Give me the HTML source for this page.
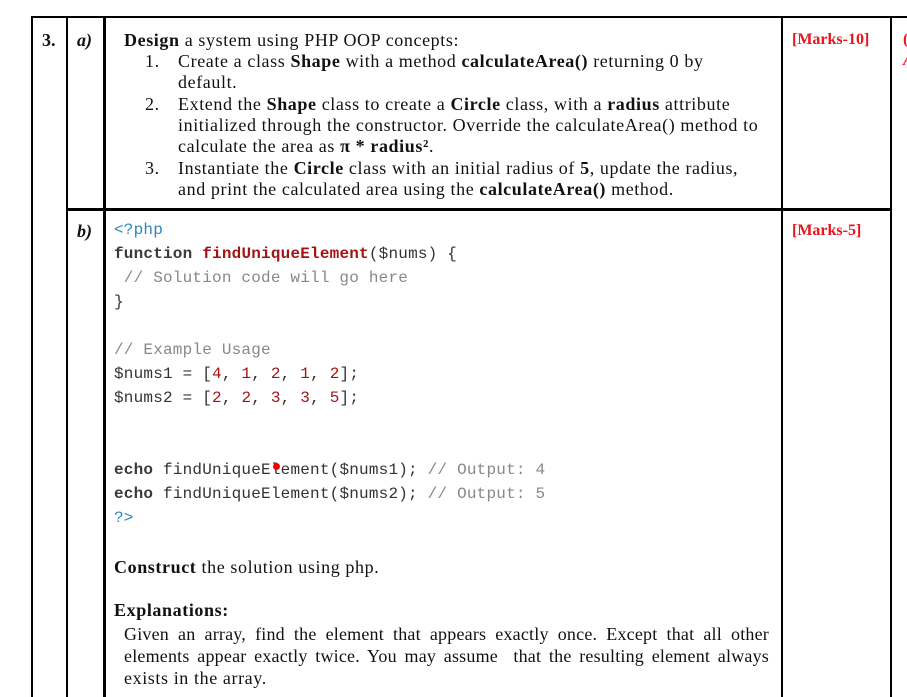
<!DOCTYPE html>
<html><head><meta charset="utf-8"><style>
body{margin:0;width:907px;height:697px;background:#fff;position:relative;overflow:hidden;font-family:"Liberation Serif",serif;color:#111}
.l{position:absolute;background:#000}
.t{position:absolute;white-space:nowrap;font-size:18px;line-height:22px;letter-spacing:0.6px}
.c{position:absolute;white-space:pre;font-family:"Liberation Mono",monospace;font-size:16px;line-height:22px;color:#333;letter-spacing:0.2px}
.red{color:#e8141c;font-weight:bold;letter-spacing:0}
.kw{color:#3a3a3a;font-weight:bold}
.fn{color:#a31515;font-weight:bold}
.cm{color:#888}
.nm{color:#a31515}
.tag{color:#2e86c1}
</style></head><body>
<div class="l" style="left:31px;top:16px;width:876px;height:2px"></div>
<div class="l" style="left:31px;top:16px;width:2px;height:681px"></div>
<div class="l" style="left:66px;top:16px;width:2px;height:681px"></div>
<div class="l" style="left:103px;top:16px;width:3px;height:681px"></div>
<div class="l" style="left:781px;top:16px;width:2px;height:681px"></div>
<div class="l" style="left:890px;top:16px;width:2px;height:681px"></div>
<div class="l" style="left:66px;top:208px;width:826px;height:3px"></div>

<div class="t" style="left:42px;top:29px;font-weight:bold;letter-spacing:0">3.</div>
<div class="t" style="left:77px;top:29px;font-weight:bold;font-style:italic;letter-spacing:0">a)</div>
<div class="t" style="left:77px;top:220px;font-weight:bold;font-style:italic;letter-spacing:0">b)</div>
<div class="t red" style="left:792px;top:29px;font-size:16px">[Marks-10]</div>
<div class="t red" style="left:792px;top:220px;font-size:16px">[Marks-5]</div>
<div class="t red" style="left:903px;top:29px;font-size:16px">(</div>
<div class="t red" style="left:903px;top:50px;font-size:16px;font-style:italic">A</div>

<div class="t" style="left:124px;top:29px"><b>Design</b> a system using PHP OOP concepts:</div>
<div class="t" style="left:145px;top:50px">1.</div>
<div class="t" style="left:178px;top:50px">Create a class <b>Shape</b> with a method <b>calculateArea()</b> returning 0 by</div>
<div class="t" style="left:178px;top:71px">default.</div>
<div class="t" style="left:145px;top:93px">2.</div>
<div class="t" style="left:178px;top:93px">Extend the <b>Shape</b> class to create a <b>Circle</b> class, with a <b>radius</b> attribute</div>
<div class="t" style="left:178px;top:114px">initialized through the constructor. Override the calculateArea() method to</div>
<div class="t" style="left:178px;top:135px">calculate the area as <b>π * radius²</b>.</div>
<div class="t" style="left:145px;top:157px">3.</div>
<div class="t" style="left:178px;top:157px">Instantiate the <b>Circle</b> class with an initial radius of <b>5</b>, update the radius,</div>
<div class="t" style="left:178px;top:178px">and print the calculated area using the <b>calculateArea()</b> method.</div>

<div class="c tag" style="left:114px;top:219px">&lt;?php</div>
<div class="c" style="left:114px;top:243px"><span class="kw">function</span> <span class="fn">findUniqueElement</span>($nums) {</div>
<div class="c cm" style="left:114px;top:267px"> // Solution code will go here</div>
<div class="c" style="left:114px;top:291px">}</div>
<div class="c cm" style="left:114px;top:339px">// Example Usage</div>
<div class="c" style="left:114px;top:363px">$nums1 = [<span class="nm">4</span>, <span class="nm">1</span>, <span class="nm">2</span>, <span class="nm">1</span>, <span class="nm">2</span>];</div>
<div class="c" style="left:114px;top:387px">$nums2 = [<span class="nm">2</span>, <span class="nm">2</span>, <span class="nm">3</span>, <span class="nm">3</span>, <span class="nm">5</span>];</div>
<div class="c" style="left:114px;top:459px"><span class="kw">echo</span> findUniqueElement($nums1); <span class="cm">// Output: 4</span></div>
<div class="c" style="left:114px;top:483px"><span class="kw">echo</span> findUniqueElement($nums2); <span class="cm">// Output: 5</span></div>
<div class="c tag" style="left:114px;top:507px">?&gt;</div>
<div style="position:absolute;left:273px;top:463px;width:7px;height:7px;border-radius:50%;background:#e00"></div>

<div class="t" style="left:114px;top:556px"><b>Construct</b> the solution using php.</div>
<div class="t" style="left:114px;top:599px;font-weight:bold">Explanations:</div>
<div class="t" style="left:124px;top:623px;width:645px;letter-spacing:0.2px;text-align:justify;text-align-last:justify">Given an array, find the element that appears exactly once. Except that all other</div>
<div class="t" style="left:124px;top:645px;width:645px;letter-spacing:0.2px;text-align:justify;text-align-last:justify">elements appear exactly twice. You may assume &nbsp;that the resulting element always</div>
<div class="t" style="left:124px;top:667px">exists in the array.</div>
</body></html>
